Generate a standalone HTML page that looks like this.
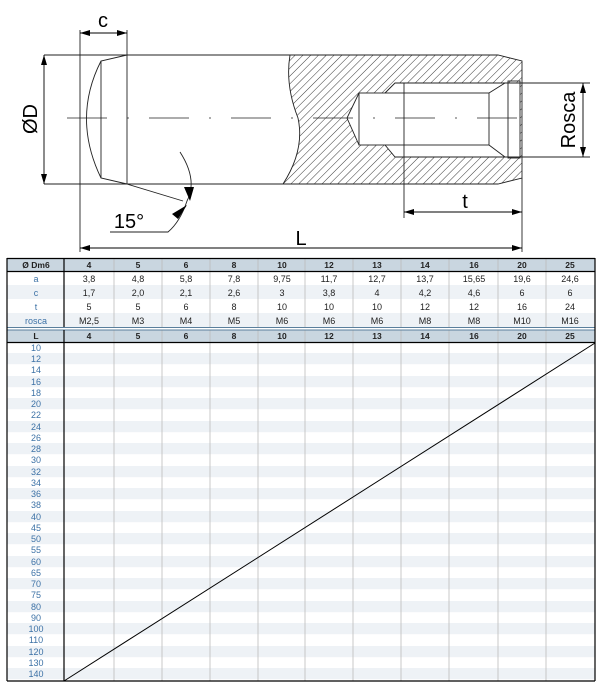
<!DOCTYPE html>
<html><head><meta charset="utf-8"><style>
html,body{margin:0;padding:0;background:#fff;width:600px;height:690px;overflow:hidden}
svg{display:block}
.d{font-family:"Liberation Sans",sans-serif;fill:#000}
.t{font-family:"Liberation Sans",sans-serif;font-size:9px;fill:#222;text-anchor:middle}
.h{font-family:"Liberation Sans",sans-serif;font-size:8.5px;font-weight:bold;fill:#222;text-anchor:middle}
.b{font-family:"Liberation Sans",sans-serif;font-size:9px;fill:#3d72a6;text-anchor:middle}
</style></head><body>
<svg width="600" height="690" viewBox="0 0 600 690" xmlns="http://www.w3.org/2000/svg">
<defs>
<pattern id="hatch" width="5.5" height="5.5" patternUnits="userSpaceOnUse" patternTransform="rotate(45)">
<line x1="0" y1="0" x2="0" y2="5.5" stroke="#222" stroke-width="0.9"/>
</pattern>
<marker id="ar" viewBox="0 0 10 6" refX="10" refY="3" markerWidth="10" markerHeight="6" orient="auto-start-reverse" markerUnits="userSpaceOnUse"><path d="M0,0 L10,3 L0,6 Z" fill="#000"/></marker>
</defs>
<g stroke="#222" stroke-width="0.9" fill="none">
<path d="M290,55 L498,55 L522,61 L522,178 L498,184 L283,184 Q305,150 298,118 Q285,85 290,55 Z M520,83 L395,83 L385,93 L359,93 L347,118 L359,145 L385,145 L395,157 L520,157 Z" fill="url(#hatch)" fill-rule="evenodd" stroke="none"/>
<path d="M44,55 L498,55 L522,61 L522,178 L498,184 L44,184"/>
<path d="M283,184 Q305,150 298,118 Q285,85 290,55"/>
<path d="M520,83 L395,83 L385,93 M385,145 L395,157 L520,157"/>
<rect x="359" y="93" width="130" height="52"/>
<path d="M359,93 L347,118 L359,145"/>
<path d="M489,93 L505,83 M489,145 L505,157"/>
<rect x="508" y="81" width="12" height="77"/>
<path d="M127,55 L101,61 Q72,118 101,178 L127,184"/>
<path d="M101,61 L101,178"/>
<path d="M127,30 L127,184"/>
<path d="M80,30 L80,252"/>
<path d="M404,83 L404,218"/>
<path d="M522,178 L522,252"/>
<path d="M520,83 L590,83 M520,157 L590,157"/>
<path d="M67,118 L537,118" stroke-dasharray="40,20,2,20" stroke-width="0.8"/>
<path d="M127,184 L183,201"/>
<path d="M180,152 Q198,180 187,201 Q180,222 168,232 L110,232"/>
</g>
<g stroke="#000" stroke-width="0.9" fill="none">
<line x1="80" y1="33" x2="127" y2="33" marker-start="url(#ar)" marker-end="url(#ar)"/>
<line x1="44" y1="55" x2="44" y2="184" marker-start="url(#ar)" marker-end="url(#ar)"/>
<line x1="583" y1="83" x2="583" y2="157" marker-start="url(#ar)" marker-end="url(#ar)"/>
<line x1="404" y1="212" x2="522" y2="212" marker-start="url(#ar)" marker-end="url(#ar)"/>
<line x1="80" y1="248" x2="522" y2="248" marker-start="url(#ar)" marker-end="url(#ar)"/>
</g>
<path d="M184,187 L190,201 L194,187 Z M178,219 L187,205 L172,214 Z" fill="#000"/>
<text class="d" x="103" y="27" font-size="20" text-anchor="middle">c</text>
<text class="d" x="0" y="0" font-size="20" text-anchor="middle" transform="translate(37,119) rotate(-90)">ØD</text>
<text class="d" x="0" y="0" font-size="20" text-anchor="middle" transform="translate(575,120) rotate(-90)">Rosca</text>
<text class="d" x="465" y="208" font-size="20" text-anchor="middle">t</text>
<text class="d" x="301" y="245" font-size="20" text-anchor="middle">L</text>
<text class="d" x="129" y="228" font-size="20" text-anchor="middle">15°</text>
<rect x="7" y="259" width="588" height="12" fill="#c9d6e0"/>
<rect x="7" y="285" width="588" height="14" fill="#eef2f6"/>
<rect x="7" y="313" width="588" height="14" fill="#eef2f6"/>
<rect x="7" y="330" width="588" height="12" fill="#c9d6e0"/>
<g fill="#eef2f6">
<rect x="7" y="353" width="588" height="11.2"/><rect x="7" y="376" width="588" height="11.2"/><rect x="7" y="398" width="588" height="11.2"/><rect x="7" y="421" width="588" height="11.2"/><rect x="7" y="443" width="588" height="11.2"/><rect x="7" y="466" width="588" height="11.2"/><rect x="7" y="488" width="588" height="11.2"/><rect x="7" y="511" width="588" height="11.2"/><rect x="7" y="533" width="588" height="11.2"/><rect x="7" y="556" width="588" height="11.2"/><rect x="7" y="578" width="588" height="11.2"/><rect x="7" y="601" width="588" height="11.2"/><rect x="7" y="623" width="588" height="11.2"/><rect x="7" y="646" width="588" height="11.2"/><rect x="7" y="668" width="588" height="11.2"/>
</g>
<g stroke="#bbb" stroke-width="0.8">
<path d="M114,259V327M162,259V327M210,259V327M258,259V327M305,259V327M353,259V327M401,259V327M449,259V327M498,259V327M546,259V327"/>
<path d="M114,330V681M162,330V681M210,330V681M258,330V681M305,330V681M353,330V681M401,330V681M449,330V681M498,330V681M546,330V681"/>
</g>
<g stroke="#5a7f9c" stroke-width="1"><path d="M7,327.5H595M7,330H595"/></g>
<g stroke="#000" stroke-width="1.2" fill="none">
<path d="M7,258.5H595M7,271.5H595M7,342.5H595M7,681H595"/>
<path d="M7,258V681M595,258V681"/>
<path d="M64,259V327M64,330V681"/>
</g>
<line x1="64" y1="681" x2="595" y2="343" stroke="#000" stroke-width="1"/>
<g class="h">
<text x="36" y="268">Ø Dm6</text><text x="89" y="268">4</text><text x="138" y="268">5</text><text x="186" y="268">6</text><text x="234" y="268">8</text><text x="282" y="268">10</text><text x="329" y="268">12</text><text x="377" y="268">13</text><text x="425" y="268">14</text><text x="474" y="268">16</text><text x="522" y="268">20</text><text x="570" y="268">25</text>
<text x="36" y="339">L</text><text x="89" y="339">4</text><text x="138" y="339">5</text><text x="186" y="339">6</text><text x="234" y="339">8</text><text x="282" y="339">10</text><text x="329" y="339">12</text><text x="377" y="339">13</text><text x="425" y="339">14</text><text x="474" y="339">16</text><text x="522" y="339">20</text><text x="570" y="339">25</text>
</g>
<g class="t">
<text class="b" x="36" y="282">a</text><text x="89" y="282">3,8</text><text x="138" y="282">4,8</text><text x="186" y="282">5,8</text><text x="234" y="282">7,8</text><text x="282" y="282">9,75</text><text x="329" y="282">11,7</text><text x="377" y="282">12,7</text><text x="425" y="282">13,7</text><text x="474" y="282">15,65</text><text x="522" y="282">19,6</text><text x="570" y="282">24,6</text>
<text class="b" x="36" y="296">c</text><text x="89" y="296">1,7</text><text x="138" y="296">2,0</text><text x="186" y="296">2,1</text><text x="234" y="296">2,6</text><text x="282" y="296">3</text><text x="329" y="296">3,8</text><text x="377" y="296">4</text><text x="425" y="296">4,2</text><text x="474" y="296">4,6</text><text x="522" y="296">6</text><text x="570" y="296">6</text>
<text class="b" x="36" y="310">t</text><text x="89" y="310">5</text><text x="138" y="310">5</text><text x="186" y="310">6</text><text x="234" y="310">8</text><text x="282" y="310">10</text><text x="329" y="310">10</text><text x="377" y="310">10</text><text x="425" y="310">12</text><text x="474" y="310">12</text><text x="522" y="310">16</text><text x="570" y="310">24</text>
<text class="b" x="36" y="324">rosca</text><text x="89" y="324">M2,5</text><text x="138" y="324">M3</text><text x="186" y="324">M4</text><text x="234" y="324">M5</text><text x="282" y="324">M6</text><text x="329" y="324">M6</text><text x="377" y="324">M6</text><text x="425" y="324">M8</text><text x="474" y="324">M8</text><text x="522" y="324">M10</text><text x="570" y="324">M16</text>
</g>
<g class="b">
<text x="36" y="351">10</text><text x="36" y="362">12</text><text x="36" y="373">14</text><text x="36" y="385">16</text><text x="36" y="396">18</text><text x="36" y="407">20</text><text x="36" y="418">22</text><text x="36" y="430">24</text><text x="36" y="441">26</text><text x="36" y="452">28</text><text x="36" y="463">30</text><text x="36" y="475">32</text><text x="36" y="486">34</text><text x="36" y="497">36</text><text x="36" y="508">38</text><text x="36" y="520">40</text><text x="36" y="531">45</text><text x="36" y="542">50</text><text x="36" y="553">55</text><text x="36" y="565">60</text><text x="36" y="576">65</text><text x="36" y="587">70</text><text x="36" y="598">75</text><text x="36" y="610">80</text><text x="36" y="621">90</text><text x="36" y="632">100</text><text x="36" y="643">110</text><text x="36" y="655">120</text><text x="36" y="666">130</text><text x="36" y="677">140</text>
</g>
</svg>
</body></html>
